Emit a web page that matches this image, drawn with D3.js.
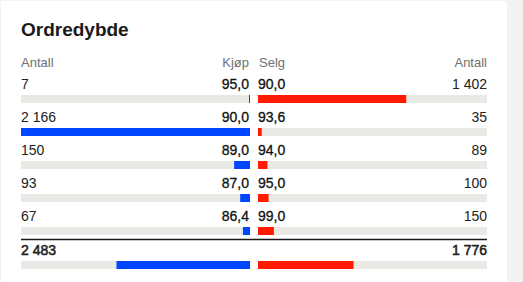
<!DOCTYPE html>
<html><head><meta charset="utf-8">
<script src="https://cdn.jsdelivr.net/npm/d3@7"></script>
<style>
html,body{margin:0;padding:0;background:#f3f3f3;}
svg{display:block;font-family:"Liberation Sans",Arial,sans-serif;}
</style></head>
<body>
<svg id="chart" width="523" height="282"></svg>
<script>
const title = "Ordredybde";
const headers = ["Antall", "Kjøp", "Selg", "Antall"];
const buyCounts = [7, 2166, 150, 93, 67];
const buyPrices = [95.0, 90.0, 89.0, 87.0, 86.4];
const sellPrices = [90.0, 93.6, 94.0, 95.0, 99.0];
const sellCounts = [1402, 35, 89, 100, 150];

const fmtLocale = d3.formatLocale({decimal: ",", thousands: "\u00a0", grouping: [3], currency: ["", " kr"]});
const fmtInt = fmtLocale.format(",d");
const fmtPrice = fmtLocale.format(".1f");

const svg = d3.select("#chart");
svg.append("rect").attr("x", 1).attr("y", 1).attr("width", 506).attr("height", 282).attr("fill", "#fff");

const left = 21, mid1 = 250, mid2 = 258, right = 487;
const halfW = mid1 - left;
const blue = "#0046ff", red = "#ff1a00", track = "#e9e9e5";

svg.append("text").attr("x", left).attr("y", 36).text(title)
  .attr("font-size", 19).attr("font-weight", 700).attr("fill", "#1a1a1a");

const hy = 67;
const hdr = svg.append("g").attr("font-size", 13).attr("fill", "#707070");
hdr.append("text").attr("x", left).attr("y", hy).text(headers[0]);
hdr.append("text").attr("x", mid1 - 1).attr("y", hy).attr("text-anchor", "end").text(headers[1]);
hdr.append("text").attr("x", mid2 + 1).attr("y", hy).text(headers[2]);
hdr.append("text").attr("x", right).attr("y", hy).attr("text-anchor", "end").text(headers[3]);

const rows = d3.range(buyCounts.length);
const y = d3.scaleLinear().domain([0, 1]).range([95, 128]);
const maxCount = d3.max(buyCounts.concat(sellCounts));
const x = d3.scaleLinear().domain([0, maxCount]).range([0, halfW]);

function drawRow(g, by, bc, bp, sc, sp, scale, bold) {
  g.append("rect").attr("x", left).attr("y", by).attr("width", halfW).attr("height", 8).attr("fill", track);
  g.append("rect").attr("x", mid2).attr("y", by).attr("width", right - mid2).attr("height", 8).attr("fill", track);
  const bw = Math.max(1, scale(bc));
  g.append("rect").attr("x", mid1 - bw).attr("y", by).attr("width", bw).attr("height", 8).attr("fill", blue);
  const sw = Math.max(1, scale(sc));
  g.append("rect").attr("x", mid2).attr("y", by).attr("width", sw).attr("height", 8).attr("fill", red);
  const ty = by - 6;
  const t = g.append("g").attr("font-size", 14);
  const cStroke = bold ? 0.55 : 0;
  t.append("text").attr("x", left).attr("y", ty).attr("fill", "#222").attr("stroke", "#222").attr("stroke-width", cStroke).text(fmtInt(bc));
  t.append("text").attr("x", right).attr("y", ty).attr("text-anchor", "end").attr("fill", "#222").attr("stroke", "#222").attr("stroke-width", cStroke).text(fmtInt(sc));
  if (bp != null) {
    t.append("text").attr("x", mid1 - 1).attr("y", ty).attr("text-anchor", "end").attr("fill", "#111").attr("stroke", "#111").attr("stroke-width", 0.3).text(fmtPrice(bp));
    t.append("text").attr("x", mid2).attr("y", ty).attr("fill", "#111").attr("stroke", "#111").attr("stroke-width", 0.3).text(fmtPrice(sp));
  }
}

rows.forEach(i => {
  drawRow(svg.append("g"), y(i), buyCounts[i], buyPrices[i], sellCounts[i], sellPrices[i], x, false);
});

const lineY = y(rows.length - 1) + 12.5;
svg.append("line").attr("x1", left).attr("x2", right).attr("y1", lineY).attr("y2", lineY)
  .attr("stroke", "#1a1a1a").attr("stroke-width", 1.5);

const totalBuy = d3.sum(buyCounts), totalSell = d3.sum(sellCounts);
const xt = d3.scaleLinear().domain([0, totalBuy + totalSell]).range([0, halfW]);
drawRow(svg.append("g"), 261, totalBuy, null, totalSell, null, xt, true);
</script>
</body></html>
